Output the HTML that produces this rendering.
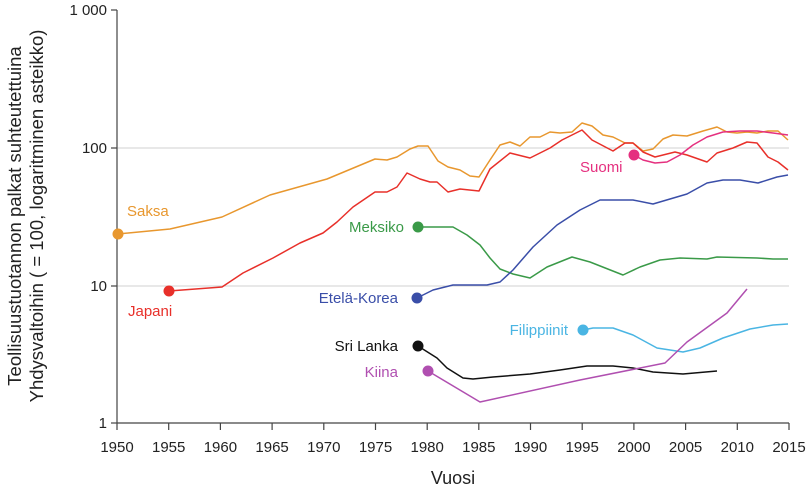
<!DOCTYPE html>
<html><head><meta charset="utf-8"><style>
body{margin:0;background:#fff;}
svg{display:block;font-family:"Liberation Sans",sans-serif;}
</style></head><body>
<svg width="810" height="497" viewBox="0 0 810 497" xmlns="http://www.w3.org/2000/svg">
<g stroke="#d0d0d0" stroke-width="1">
<line x1="117" y1="148" x2="789" y2="148"/>
<line x1="117" y1="286" x2="789" y2="286"/>
</g>
<g stroke="#444" stroke-width="1.2" fill="none">
<line x1="117" y1="10" x2="117" y2="423"/>
<line x1="117" y1="423" x2="789" y2="423"/>
<line x1="111" y1="10" x2="117" y2="10"/>
<line x1="111" y1="148" x2="117" y2="148"/>
<line x1="111" y1="286" x2="117" y2="286"/>
<line x1="111" y1="423" x2="117" y2="423"/>
<path d="M117 423v7M168.7 423v7M220.4 423v7M272.1 423v7M323.8 423v7M375.5 423v7M427.2 423v7M478.8 423v7M530.5 423v7M582.2 423v7M633.9 423v7M685.6 423v7M737.3 423v7M789 423v7"/>
</g>
<g font-size="15" fill="#222" text-anchor="end">
<text x="107" y="15">1 000</text>
<text x="107" y="153">100</text>
<text x="107" y="291">10</text>
<text x="107" y="428">1</text>
</g>
<g font-size="15" fill="#222" text-anchor="middle">
<text x="117" y="452">1950</text><text x="168.7" y="452">1955</text><text x="220.4" y="452">1960</text><text x="272.1" y="452">1965</text><text x="323.8" y="452">1970</text><text x="375.5" y="452">1975</text><text x="427.2" y="452">1980</text><text x="478.8" y="452">1985</text><text x="530.5" y="452">1990</text><text x="582.2" y="452">1995</text><text x="633.9" y="452">2000</text><text x="685.6" y="452">2005</text><text x="737.3" y="452">2010</text><text x="789" y="452">2015</text>
</g>
<text x="453" y="484" font-size="18" fill="#222" text-anchor="middle">Vuosi</text>
<g font-size="18.5" fill="#222" text-anchor="middle">
<text transform="translate(21,216) rotate(-90)">Teollisuustuotannon palkat suhteutettuina</text>
<text transform="translate(43,216) rotate(-90)">Yhdysvaltoihin ( = 100, logaritminen asteikko)</text>
</g>
<g fill="none" stroke-width="1.5" stroke-linejoin="round">
<polyline stroke="#e8972e" points="118,234 170,229 222,217 270,195 327,179 375,159 387,160 397,157 410,149 418,146 428,146 438,161 448,167 460,170 470,176 479,177 490,160 500,145 510,142 520,146 530,137 540,137 550,132 560,133 572,132 582,123 592,126 603,135 613,137 625,143 633,143 643,151 653,149 663,139 673,135 687,136 703,131 717,127 727,132 737,133 747,132 757,133 768,131 778,131 788,140"/>
<polyline stroke="#e8302a" points="169,291 222,287 243,273 273,258 300,243 323,233 337,222 353,207 375,192 387,192 397,187 407,173 420,179 430,182 437,182 448,192 460,189 479,191 490,169 510,153 530,158 550,148 562,140 582,130 592,140 613,151 625,143 633,143 643,152 655,157 675,152 687,155 707,162 717,153 733,148 747,142 757,143 768,157 778,162 788,170"/>
<polyline stroke="#e5307f" points="634,155 643,160 655,163 667,162 680,155 693,145 707,137 723,132 740,131 757,131 773,133 788,135"/>
<polyline stroke="#3a9a48" points="418,227 440,227 453,227 467,235 480,245 490,258 500,269 513,274 530,278 547,267 572,257 590,262 623,275 640,267 660,260 680,258 707,259 717,257 757,258 773,259 788,259"/>
<polyline stroke="#3a4ea8" points="417,298 433,290 453,285 467,285 487,285 500,282 513,270 533,247 557,225 580,210 600,200 613,200 633,200 653,204 670,199 687,194 707,183 723,180 740,180 758,183 777,177 788,175"/>
<polyline stroke="#4ab5e3" points="583,330 593,328 613,328 633,335 657,348 683,352 700,348 723,338 750,329 773,325 788,324"/>
<polyline stroke="#111" points="418,346 437,358 447,368 463,378 473,379 493,377 530,374 560,370 587,366 613,366 633,368 653,372 683,374 717,371"/>
<polyline stroke="#b04fb0" points="428,371 480,402 580,380 665,363 687,342 727,313 747,289"/>
</g>
<circle cx="118" cy="234" r="5.5" fill="#e8972e"/>
<circle cx="169" cy="291" r="5.5" fill="#e8302a"/>
<circle cx="634" cy="155" r="5.5" fill="#e5307f"/>
<circle cx="418" cy="227" r="5.5" fill="#3a9a48"/>
<circle cx="417" cy="298" r="5.5" fill="#3a4ea8"/>
<circle cx="583" cy="330" r="5.5" fill="#4ab5e3"/>
<circle cx="418" cy="346" r="5.5" fill="#111"/>
<circle cx="428" cy="371" r="5.5" fill="#b04fb0"/>
<g font-size="15">
<text x="127" y="216" fill="#e8972e">Saksa</text>
<text x="128" y="316" fill="#e8302a">Japani</text>
<text x="580" y="172" fill="#e5307f">Suomi</text>
<text x="404" y="232" fill="#3a9a48" text-anchor="end">Meksiko</text>
<text x="398" y="303" fill="#3a4ea8" text-anchor="end">Etelä-Korea</text>
<text x="568" y="335" fill="#4ab5e3" text-anchor="end">Filippiinit</text>
<text x="398" y="351" fill="#111" text-anchor="end">Sri Lanka</text>
<text x="398" y="377" fill="#b04fb0" text-anchor="end">Kiina</text>
</g>
</svg>
</body></html>
